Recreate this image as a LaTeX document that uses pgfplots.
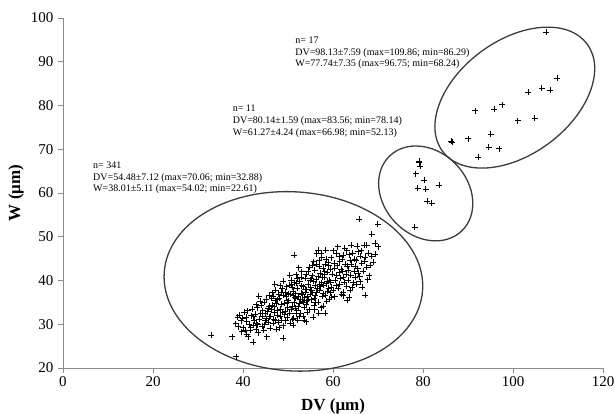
\documentclass[border=0pt]{standalone}
\usepackage{fontspec}
\setmainfont{Liberation Serif}
\usepackage{pgfplots}
\pgfplotsset{compat=1.18}
\definecolor{axgray}{RGB}{140,140,140}
\definecolor{ellgray}{RGB}{60,60,60}
\begin{document}
\begin{tikzpicture}
\path[use as bounding box] (-63pt,-46pt) rectangle (552pt,368pt);
\begin{axis}[
  at={(0pt,0pt)}, anchor=south west,
  scale only axis, width=540pt, height=350pt,
  xmin=0, xmax=120, ymin=20, ymax=100,
  xtick={0,20,...,120}, ytick={20,30,...,100},
  axis lines*=left,
  tick align=outside, major tick length=5pt,
  axis line style={axgray, line width=0.9pt},
  tick style={axgray, line width=0.9pt},
  ticklabel style={font=\fontsize{15}{15}\selectfont},
  yticklabel style={xshift=-1pt},
  /pgf/number format/assume math mode=true,
  xlabel={\textbf{DV (μm)}}, ylabel={\textbf{W (μm)}},
  xlabel style={at={(axis description cs:0.5,0)}, anchor=center, yshift=-38pt, font=\fontsize{17}{17}\selectfont},
  ylabel style={at={(axis description cs:0,0.5)}, anchor=center, yshift=47pt, font=\fontsize{17}{17}\selectfont},
  clip=false,
]
% n = 341
\addplot[only marks, mark=+, mark size=3pt, mark options={line width=0.65pt}, black] table {
32.88 27.55
37.66 27.18
38.52 22.61
39.21 32.12
38.96 29.45
39.72 28.31
40.81 30.62
40.75 31.58
41.62 28.71
42.30 25.88
42.28 29.84
40.80 27.80
38.40 30.10
39.55 30.85
40.10 29.20
41.05 33.10
41.40 30.05
41.85 31.95
39.90 31.40
40.45 28.60
41.20 27.15
38.80 31.60
42.00 33.40
41.70 29.30
40.30 32.70
42.70 32.30
43.40 28.10
42.55 30.90
43.10 33.80
43.65 31.20
44.20 29.60
44.85 32.55
45.26 27.16
45.60 30.40
42.95 34.50
43.80 35.20
44.40 33.10
44.95 30.80
45.80 34.10
45.10 35.80
43.25 29.90
44.60 28.70
45.90 31.70
42.40 31.70
43.95 32.40
44.70 35.00
45.45 32.90
46.00 29.10
42.85 28.90
44.10 34.30
45.20 31.30
43.50 36.40
44.35 31.90
45.75 36.60
43.00 30.30
44.80 29.90
45.55 33.70
46.20 33.50
46.50 37.20
46.80 31.10
47.10 35.40
47.35 28.90
47.60 33.20
47.90 36.90
48.20 31.80
48.45 34.60
48.70 38.10
48.95 29.70
48.96 26.86
49.30 33.00
49.60 36.30
49.85 31.50
46.35 35.90
46.65 30.20
46.95 34.00
47.25 37.80
47.55 32.10
47.80 30.40
48.10 35.90
48.35 33.40
48.60 31.00
48.85 36.70
49.15 34.80
49.45 30.80
49.70 38.60
49.95 35.10
46.10 31.90
46.75 36.40
47.40 34.70
48.05 29.20
48.80 32.70
49.50 37.40
47.00 39.10
48.30 38.80
46.90 32.80
47.70 35.60
48.50 37.30
49.25 32.20
49.90 33.80
46.45 34.40
47.15 30.90
48.95 39.90
50.10 35.40
50.25 38.90
50.40 32.60
50.55 36.80
50.70 40.10
50.85 34.20
51.00 31.20
51.15 37.60
51.20 36.70
51.25 31.40
51.20 29.80
51.30 45.80
51.40 39.50
51.55 33.70
51.70 35.90
51.85 41.30
51.90 33.10
52.00 38.20
52.15 30.90
52.30 36.40
52.45 34.80
52.60 39.90
52.75 32.50
52.90 37.10
53.05 42.00
53.20 35.30
53.35 31.90
53.40 38.60
53.55 33.90
53.70 36.20
53.85 40.50
54.00 34.60
54.05 30.60
54.15 37.90
54.30 32.80
54.45 39.20
54.60 35.70
54.75 43.00
54.90 36.90
50.05 37.00
50.35 41.20
50.65 33.40
50.95 38.40
51.35 34.90
51.65 37.00
51.95 39.40
52.25 34.00
52.55 31.80
52.85 40.80
53.15 36.80
53.45 35.00
53.75 38.00
54.10 41.40
54.40 36.30
54.70 33.30
50.50 30.30
51.80 32.40
52.40 42.90
53.60 31.00
54.20 35.40
55.05 38.40
55.20 35.60
55.35 41.10
55.50 37.20
55.60 31.60
55.65 39.80
55.80 34.30
55.95 42.40
56.10 36.70
56.25 40.20
56.40 46.10
56.55 38.10
56.70 47.00
56.70 35.00
56.85 43.30
57.00 37.80
57.15 41.60
57.30 33.80
57.45 39.50
57.50 45.30
57.60 36.40
57.75 42.80
57.80 34.20
57.90 38.90
58.05 40.70
58.20 32.60
58.20 36.70
58.20 43.80
58.35 47.00
58.50 39.30
58.65 41.90
58.80 37.50
58.95 44.10
59.10 35.80
59.25 40.10
59.40 42.60
59.55 38.40
59.70 36.20
59.85 41.40
55.15 40.60
55.45 43.50
55.75 36.00
56.05 39.00
56.35 37.40
56.65 41.00
56.95 44.60
57.25 38.60
57.55 40.80
57.85 37.00
58.15 42.20
58.45 44.90
58.75 39.80
59.05 43.40
59.35 37.20
59.65 45.20
55.90 33.30
56.80 32.50
57.35 46.30
58.60 35.30
59.50 39.60
60.10 46.80
60.80 46.20
63.00 46.80
62.30 45.80
61.50 44.30
62.70 43.80
63.80 44.70
60.40 42.80
61.50 41.80
63.40 42.40
60.80 41.20
62.30 40.70
63.40 40.10
61.50 39.20
63.00 38.70
64.50 39.50
60.10 37.80
62.30 37.40
63.80 37.80
60.40 36.30
62.30 36.50
60.25 44.00
60.55 40.00
60.95 43.40
61.20 38.30
61.30 45.50
61.75 42.60
61.95 36.90
62.05 44.90
62.50 39.60
62.85 41.50
63.20 43.30
63.55 36.20
63.65 45.90
63.95 41.20
64.10 43.70
64.25 38.40
64.40 46.20
64.65 42.10
64.80 44.80
64.90 40.70
60.65 38.80
61.05 47.70
61.60 40.60
62.15 42.20
62.60 47.40
63.10 35.50
64.00 48.10
65.30 47.90
65.60 46.60
66.00 45.60
67.10 45.30
68.60 45.50
64.90 43.30
66.40 43.90
67.50 43.00
68.20 43.50
65.60 41.60
66.00 39.70
67.20 36.70
65.80 54.02
69.90 52.80
68.60 50.60
69.40 48.60
70.06 47.70
66.90 48.00
67.50 48.05
65.10 44.70
65.45 42.70
65.95 40.90
66.30 46.80
66.70 42.20
67.00 44.40
67.85 46.20
68.10 41.10
68.90 44.20
69.30 46.00
66.55 38.50
65.25 39.20
67.70 40.20
53.00 38.80
55.25 37.70
56.20 43.70
52.70 35.60
54.85 40.00
57.05 39.20
51.50 36.10
58.00 41.30
53.90 37.30
56.00 35.10
59.00 38.20
52.05 40.60
54.55 42.10
55.70 44.30
50.80 39.20
};
% n = 11
\addplot[only marks, mark=+, mark size=3pt, mark options={line width=0.65pt}, black] table {
79.10 67.20
79.20 66.90
79.30 66.20
78.40 64.40
80.30 63.00
78.80 61.10
80.60 60.80
83.56 61.80
80.90 58.10
81.90 57.60
78.14 52.13
};
% n = 17
\addplot[only marks, mark=+, mark size=3pt, mark options={line width=0.65pt}, black] table {
107.30 96.75
109.86 86.20
103.40 83.00
106.40 83.90
108.20 83.50
91.60 78.80
95.80 79.20
97.60 80.20
101.00 76.50
104.80 77.10
86.29 71.80
86.50 71.60
90.10 72.40
95.00 73.40
94.60 70.50
96.90 70.10
92.30 68.24
};
% ellipses
\draw[ellgray, line width=1.3pt, rotate around={-4:(axis cs:51.2,39.8)}] (axis cs:51.2,39.8) ellipse [x radius=129.5pt, y radius=89.5pt];
\draw[ellgray, line width=1.3pt, rotate around={-46:(axis cs:80.6,59.9)}] (axis cs:80.6,59.9) ellipse [x radius=52pt, y radius=42pt];
\draw[ellgray, line width=1.3pt, rotate around={36.5:(axis cs:100.4,81.8)}] (axis cs:100.4,81.8) ellipse [x radius=90pt, y radius=57pt];
% annotations
\node[anchor=north west, inner sep=0pt, align=left, font=\fontsize{10}{11.6}\selectfont] at (axis cs:6.67,67.15)
  {n= 341\\DV=54.48±7.12 (max=70.06; min=32.88)\\W=38.01±5.11 (max=54.02; min=22.61)};
\node[anchor=north west, inner sep=0pt, align=left, font=\fontsize{10}{11.6}\selectfont] at (axis cs:37.7,80.1)
  {n= 11\\DV=80.14±1.59 (max=83.56; min=78.14)\\W=61.27±4.24 (max=66.98; min=52.13)};
\node[anchor=north west, inner sep=0pt, align=left, font=\fontsize{10}{11.6}\selectfont] at (axis cs:51.6,95.7)
  {n= 17\\DV=98.13±7.59 (max=109.86; min=86.29)\\W=77.74±7.35 (max=96.75; min=68.24)};
\end{axis}
\end{tikzpicture}
\end{document}
